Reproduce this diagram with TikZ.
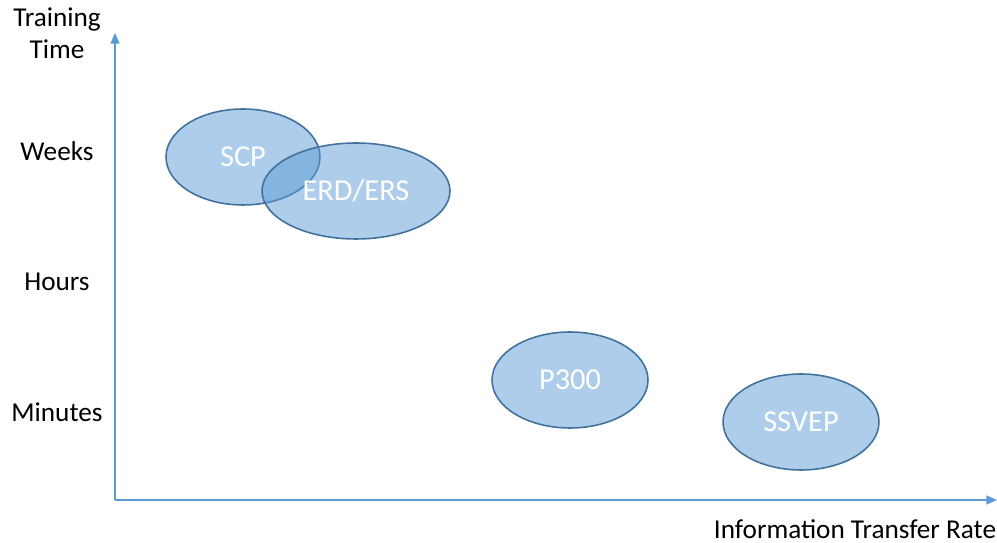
\documentclass[tikz,border=0pt]{standalone}
\usepackage{fontspec}
\setmainfont{Carlito}
\usepackage{tikz}
\usetikzlibrary{calc,positioning,shapes,arrows.meta}
\definecolor{axisblue}{HTML}{5B9BD5}
\definecolor{ringblue}{HTML}{41719C}

\begin{document}
\begin{tikzpicture}[x=0.02cm,y=-0.02cm,
	paradigm/.style={shape=ellipse,draw=ringblue,line width=0.9pt,fill=axisblue,fill opacity=0.5,text opacity=1,text=white,font=\fontsize{17.3}{20}\selectfont,inner sep=0pt,minimum height=1.92cm},
	axislabel/.style={font=\fontsize{15.5}{18}\selectfont,align=center},
	axisline/.style={draw=axisblue,line width=1pt,-{Triangle[length=6pt,width=5pt]}}]
		\useasboundingbox (0,0) rectangle (997,543);
		% axes
		\coordinate (O) at (115,500);
		\coordinate (ytop) at (115,33);
		\coordinate (xend) at (997,500);
		\draw[axisline] (O) -- (ytop);
		\draw[axisline] (O) -- (xend);
		\node(ylab) [axislabel] at (57,33) {Training\\Time};
		\node(xlab) [axislabel] at (855,529) {Information Transfer Rate};
		\node(weeks) [axislabel] at (57,151) {Weeks};
		\node(hours) [axislabel] at (57,282) {Hours};
		\node(minutes) [axislabel] at (57,412) {Minutes};
		% paradigms
		\node(scp) [paradigm,minimum width=3.08cm] at (243,157) {SCP};
		\node(erd) [paradigm,minimum width=3.76cm] at (356,191) {ERD/ERS};
		\node(p300) [paradigm,minimum width=3.12cm] at (570,380) {P300};
		\node(ssvep) [paradigm,minimum width=3.12cm] at (801,422) {SSVEP};
\end{tikzpicture}
\end{document}
